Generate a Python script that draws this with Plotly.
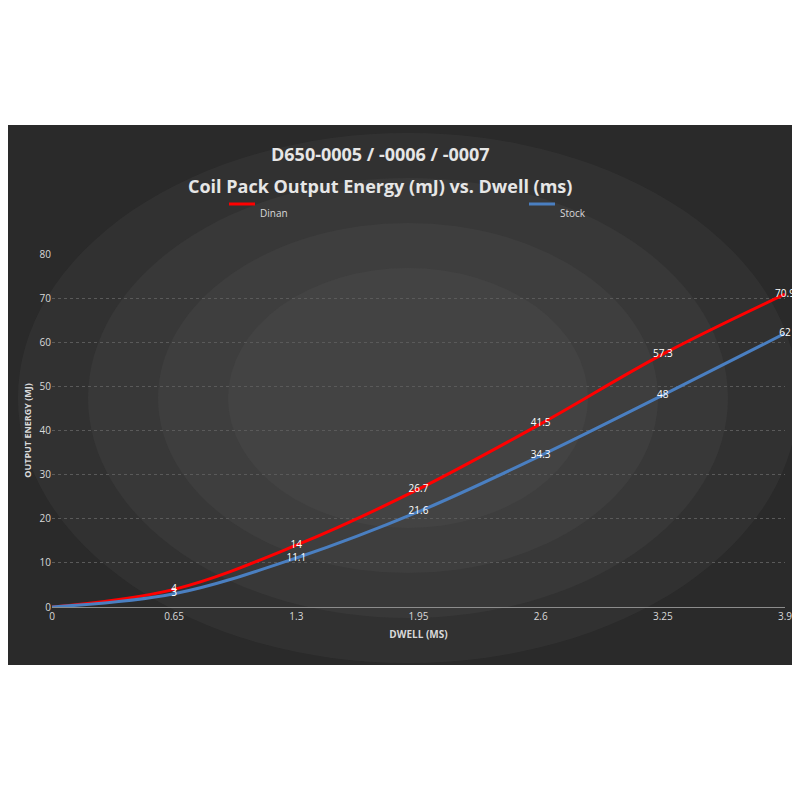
import plotly.graph_objects as go

dwell = [0, 0.65, 1.3, 1.95, 2.6, 3.25, 3.9]
dinan = [0, 4, 14, 26.7, 41.5, 57.3, 70.9]
stock = [0, 3, 11.1, 21.6, 34.3, 48, 62]
dinan_labels = [''] + [str(v) for v in dinan[1:]]
stock_labels = [''] + [str(v) for v in stock[1:]]
x_ticks = ['0', '0.65', '1.3', '1.95', '2.6', '3.25', '3.9']

fig = go.Figure()
fig.add_trace(go.Scatter(
    x=dwell, y=dinan, name='Dinan', mode='lines+text', text=dinan_labels,
    textposition='middle center', textfont=dict(color='white', size=10),
    line=dict(color='#ff0000', width=3, shape='spline'), cliponaxis=False
))
fig.add_trace(go.Scatter(
    x=dwell, y=stock, name='Stock', mode='lines+text', text=stock_labels,
    textposition='middle center', textfont=dict(color='white', size=10),
    line=dict(color='#4a7fc1', width=3, shape='spline'), cliponaxis=False
))

# dark panel (page px 0..800 wide, 117..657 high) with a soft lighter centre
px = lambda v: (v - 44) / 733
py = lambda v: (599 - v) / 353
shapes = [dict(type='rect', xref='paper', yref='paper', x0=px(0), x1=px(800),
               y0=py(657), y1=py(117), fillcolor='#2a2a2a', line_width=0, layer='below')]
for rx, ry in [(390, 265), (320, 220), (250, 175), (180, 130)]:
    shapes.append(dict(type='circle', xref='paper', yref='paper',
                       x0=px(400 - rx), x1=px(400 + rx), y0=py(390 + ry), y1=py(390 - ry),
                       fillcolor='rgba(110,110,110,0.12)', line_width=0, layer='below'))
# legend lines
shapes.append(dict(type='line', xref='paper', yref='paper', x0=px(221), x1=px(247),
                   y0=py(196), y1=py(196), line=dict(color='#ff0000', width=3)))
shapes.append(dict(type='line', xref='paper', yref='paper', x0=px(521), x1=px(547),
                   y0=py(196), y1=py(196), line=dict(color='#4a7fc1', width=3)))

fig.update_layout(
    width=800, height=800,
    paper_bgcolor='white', plot_bgcolor='rgba(0,0,0,0)',
    margin=dict(l=44, r=23, t=246, b=201),
    shapes=shapes,
    font=dict(family='Open Sans', color='#d9d9d9'),
    showlegend=False,
    annotations=[
        dict(text='<b>D650-0005 / -0006 / -0007</b>', xref='paper', yref='paper',
             x=px(372), y=py(132), showarrow=False, font=dict(size=18, color='#e6e6e6')),
        dict(text='<b>Coil Pack Output Energy (mJ) vs. Dwell (ms)</b>', xref='paper', yref='paper',
             x=px(372), y=py(164), showarrow=False, font=dict(size=18, color='#e6e6e6')),
        dict(text='Dinan', xref='paper', yref='paper', x=px(250), y=py(196), xanchor='left',
             showarrow=False, font=dict(size=10, color='#d9d9d9')),
        dict(text='Stock', xref='paper', yref='paper', x=px(550), y=py(196), xanchor='left',
             showarrow=False, font=dict(size=10, color='#d9d9d9')),
    ],
    xaxis=dict(range=[0, 3.9], tickvals=dwell, ticktext=x_ticks, showgrid=False,
               zeroline=False, showline=True, linecolor='#8c8c8c', automargin=False,
               tickfont=dict(size=10, color='#d9d9d9'),
               title=dict(text='<b>DWELL (MS)</b>', font=dict(size=10, color='#d9d9d9'), standoff=8)),
    yaxis=dict(range=[0, 80], dtick=10, showgrid=True, gridcolor='#5a5a5a', griddash='dot',
               zeroline=False, automargin=False, tickfont=dict(size=10, color='#d9d9d9'),
               title=dict(text='<b>OUTPUT ENERGY (MJ)</b>', font=dict(size=9, color='#d9d9d9'), standoff=6)),
)

fig.write_html('out.html')
